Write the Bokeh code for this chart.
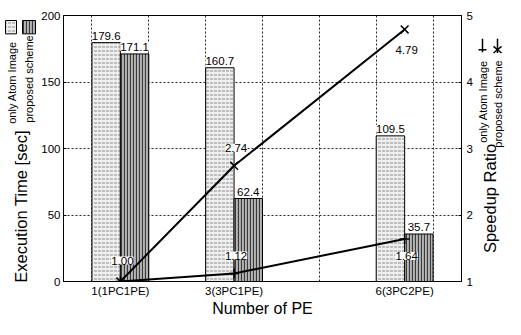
from math import pi
import numpy as np
from bokeh.plotting import figure
from bokeh.layouts import row
from bokeh.models import Range1d, LinearAxis, FixedTicker, ColumnDataSource, LabelSet, Label
from bokeh.transform import dodge
from bokeh.core.properties import value
from bokeh.embed import file_html
from bokeh.resources import INLINE

# ---------------- data ----------------
pe = [1, 3, 6]
pe_labels = ["1(1PC1PE)", "3(3PC1PE)", "6(3PC2PE)"]
time_atom = [179.6, 160.7, 109.5]      # only Atom Image [sec]
time_prop = [171.1, 62.4, 35.7]        # proposed scheme [sec]
speed_atom = [1.00, 1.12, 1.64]        # speedup ratio, only Atom Image
speed_prop = [1.00, 2.74, 4.79]        # speedup ratio, proposed scheme
time_ticks = [0, 50, 100, 150, 200]
speed_ticks = [1, 2, 3, 4, 5]
series_names = ["only Atom Image", "proposed scheme"]

# ---------------- style / layout ----------------
FONT = "Liberation Sans"
H = 319
LW, RW = 38, 30                 # side strips (legends, axis titles)
ML, MR, MT = 24, 13, 15         # main figure borders
FW = 400                        # frame width
MW = ML + FW + MR
ROT_FIX = 26                    # observed upward drift of rotated text in the strips (px)
atom_dy = [21, 18, -17]         # label offsets (px) of only-Atom speedup labels
prop_dy = [18, -21]             # label offsets of proposed speedup labels (2nd, 3rd point)

ATOM_FILL = dict(fill_color="#eeeeee", hatch_pattern="horizontal_dash", hatch_color="#8f8f8f",
                 hatch_scale=4, hatch_weight=1)
PROP_FILL = dict(fill_color="#b5b5b5", hatch_pattern="vertical_line", hatch_color="#3a3a3a",
                 hatch_scale=3, hatch_weight=1.2)

# ---------------- main chart ----------------
p = figure(width=MW, height=H, x_range=Range1d(0, 7), y_range=Range1d(0, 200),
           output_backend="svg", toolbar_location=None,
           min_border_left=ML, min_border_right=MR, min_border_top=MT, min_border_bottom=30)
p.extra_y_ranges = {"sp": Range1d(1, 5)}
p.background_fill_color = "white"
p.border_fill_color = "white"
p.outline_line_color = "black"
p.outline_line_width = 1


def style_axis(ax, standoff):
    ax.axis_line_color = "black"
    ax.major_tick_line_color = "black"
    ax.major_tick_in = 3
    ax.major_tick_out = 0
    ax.minor_tick_line_color = None
    ax.major_label_text_font = FONT
    ax.major_label_text_font_size = "11.5px"
    ax.major_label_text_color = "black"
    ax.major_label_standoff = standoff


ly = p.yaxis[0]
ly.ticker = FixedTicker(ticks=time_ticks)
style_axis(ly, 3)

ry = LinearAxis(y_range_name="sp", ticker=FixedTicker(ticks=speed_ticks))
style_axis(ry, 5)
p.add_layout(ry, "right")

bx = p.xaxis[0]
bx.ticker = FixedTicker(ticks=pe)
bx.major_label_overrides = {k: v for k, v in zip(pe, pe_labels)}
style_axis(bx, 3)
bx.major_tick_line_color = None
bx.axis_label = "Number of PE"
bx.axis_label_text_font = FONT
bx.axis_label_text_font_size = "16px"
bx.axis_label_text_font_style = "normal"
bx.axis_label_text_color = "black"
bx.axis_label_standoff = 0

p.xgrid.ticker = FixedTicker(ticks=list(np.arange(0.5, 7, 1.0)))
p.ygrid.ticker = FixedTicker(ticks=time_ticks[1:-1])
for g in (p.xgrid[0], p.ygrid[0]):
    g.grid_line_color = "#222222"
    g.grid_line_dash = "2 2"
    g.grid_line_width = 1

src = ColumnDataSource(dict(
    pe=pe, t_atom=time_atom, t_prop=time_prop, s_atom=speed_atom, s_prop=speed_prop,
    t_atom_txt=["%.1f" % v for v in time_atom],
    t_prop_txt=["%.1f" % v for v in time_prop],
))

p.vbar(x=dodge("pe", -0.25, range=p.x_range), top="t_atom", width=0.5, source=src,
       line_color="black", line_width=1, **ATOM_FILL)
p.vbar(x=dodge("pe", 0.25, range=p.x_range), top="t_prop", width=0.5, source=src,
       line_color="black", line_width=1, **PROP_FILL)

p.line("pe", "s_atom", source=src, y_range_name="sp", line_color="black", line_width=2)
p.scatter("pe", "s_atom", source=src, y_range_name="sp", marker="cross", size=10,
          line_color="black", line_width=1.5)
p.line("pe", "s_prop", source=src, y_range_name="sp", line_color="black", line_width=2)
p.scatter("pe", "s_prop", source=src, y_range_name="sp", marker="x", size=11,
          line_color="black", line_width=1.5)

TXT = dict(text_font=value(FONT), text_font_size=value("11.5px"), text_color="black",
           background_fill_color="white")

for col, off in (("t_atom", -0.25), ("t_prop", 0.25)):
    p.add_layout(LabelSet(x=dodge("pe", off, range=p.x_range), y=col, text=col + "_txt",
                          source=src, text_align="center", text_baseline="bottom",
                          y_offset=3, **TXT))

sa = ColumnDataSource(dict(x=pe, y=speed_atom, t=["%.2f" % v for v in speed_atom], dy=atom_dy))
sp = ColumnDataSource(dict(x=pe[1:], y=speed_prop[1:], t=["%.2f" % v for v in speed_prop[1:]], dy=prop_dy))
for s in (sa, sp):
    p.add_layout(LabelSet(x="x", y="y", text="t", source=s, y_range_name="sp",
                          x_offset=2, y_offset="dy", text_align="center",
                          text_baseline="middle", **TXT))


# ---------------- side strips (legends and axis titles) ----------------
def strip(w):
    f = figure(width=w, height=H, x_range=Range1d(0, w), y_range=Range1d(0, H),
               output_backend="svg", toolbar_location=None, min_border=0,
               x_axis_location=None, y_axis_location=None)
    f.outline_line_color = None
    f.grid.visible = False
    f.background_fill_color = "white"
    f.border_fill_color = "white"
    return f


def Y(cy):
    return H - cy


def vlabel(f, x, cy, text, size):
    # vertical text reading bottom-to-top, centred on (x, cy)
    f.add_layout(Label(x=x, y=Y(cy + ROT_FIX), x_units="screen", y_units="screen", text=text,
                       angle=pi / 2, text_align="center", text_baseline="middle",
                       text_font=FONT, text_font_size=size, text_color="black"))


left = strip(LW)
left.quad(left=[5], right=[16], top=[Y(6)], bottom=[Y(22)], line_color="black",
          line_width=1, **ATOM_FILL)
left.quad(left=[22], right=[35], top=[Y(6)], bottom=[Y(22)], line_color="black",
          line_width=1, **PROP_FILL)
vlabel(left, 11, 94, series_names[0], "11px")
vlabel(left, 28.5, 90.5, series_names[1], "11px")
vlabel(left, 20, 218, "Execution Time [sec]", "16.5px")

right = strip(RW)
# line-style legend: vertical stroke with '+' and with '*' markers
right.segment(x0=[7, 3], y0=[Y(28), Y(41)], x1=[7, 11], y1=[Y(44), Y(41)],
              line_color="black", line_width=1.5)
right.segment(x0=[22, 18, 18], y0=[Y(28), Y(37), Y(45)], x1=[22, 26, 26], y1=[Y(45), Y(45), Y(37)],
              line_color="black", line_width=1.5)
vlabel(right, 7, 113, series_names[0], "11px")
vlabel(right, 22.5, 115.5, series_names[1], "11px")
vlabel(right, 14, 210, "Speedup Ratio", "16.5px")

layout = row(left, p, right, spacing=0)
open("out.html", "w").write(file_html(layout, INLINE))
